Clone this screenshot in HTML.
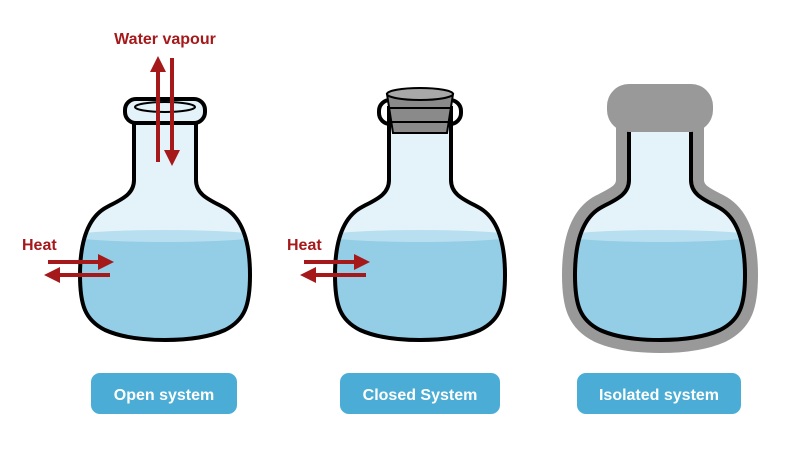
<!DOCTYPE html>
<html><head><style>
html,body{margin:0;padding:0;background:#fff;}
svg{display:block;}
text{font-family:"Liberation Sans",sans-serif;font-weight:bold;}
</style></head><body>
<svg width="800" height="449" viewBox="0 0 800 449" xmlns="http://www.w3.org/2000/svg">
<defs>
<path id="fl" d="M -31 108 L -31 180 C -31 195 -45 200 -58 207 C -79 218 -85 245 -85 275 C -85 305 -80 320 -60 330 C -40 339 -15 340 0 340 C 15 340 40 339 60 330 C 80 320 85 305 85 275 C 85 245 79 218 58 207 C 45 200 31 195 31 180 L 31 108 Z"/>
<clipPath id="cp"><use href="#fl"/></clipPath>
<g id="flask">
<use href="#fl" fill="#e4f3f9"/>
<g clip-path="url(#cp)">
<rect x="-100" y="235" width="200" height="120" fill="#93cde6"/>
<ellipse cx="0" cy="236" rx="92" ry="6" fill="#b7dff0"/>
</g>
<use href="#fl" fill="none" stroke="#000" stroke-width="4"/>
</g>
<marker id="ah" viewBox="0 0 10 10" refX="5" refY="5" markerWidth="4" markerHeight="4" orient="auto-start-reverse"><path d="M0 0 L10 5 L0 10 Z" fill="#a5191b"/></marker>
</defs>

<g transform="translate(165,0)">
<use href="#flask"/>
<rect x="-40" y="99" width="80" height="24" rx="11" fill="#e4f3f9" stroke="#000" stroke-width="4"/>
<ellipse cx="0" cy="107" rx="30" ry="5" fill="none" stroke="#000" stroke-width="2"/>
</g>
<g stroke="#a5191b" stroke-width="4" fill="none">
<line x1="158" y1="162" x2="158" y2="64" marker-end="url(#ah)"/>
<line x1="172" y1="58" x2="172" y2="158" marker-end="url(#ah)"/>
<line x1="48" y1="262" x2="106" y2="262" marker-end="url(#ah)"/>
<line x1="110" y1="275" x2="52" y2="275" marker-end="url(#ah)"/>
</g>
<text x="165" y="44" font-size="16" fill="#a5191b" text-anchor="middle">Water vapour</text>
<text x="22" y="250" font-size="16" fill="#a5191b">Heat</text>

<g transform="translate(420,0)">
<use href="#flask"/>
<rect x="-41" y="100" width="82" height="24" rx="11" fill="none" stroke="#000" stroke-width="4"/>
<path d="M -33 94 L -27 133 L 27 133 L 33 94 Z" fill="#8a8a8a" stroke="#000" stroke-width="2"/>
<line x1="-31" y1="108" x2="31" y2="108" stroke="#000" stroke-width="2"/>
<line x1="-29" y1="122" x2="29" y2="122" stroke="#000" stroke-width="2"/>
<ellipse cx="0" cy="94" rx="33" ry="6" fill="#a8a8a8" stroke="#000" stroke-width="2"/>
</g>
<g stroke="#a5191b" stroke-width="4" fill="none">
<line x1="304" y1="262" x2="362" y2="262" marker-end="url(#ah)"/>
<line x1="366" y1="275" x2="308" y2="275" marker-end="url(#ah)"/>
</g>
<text x="287" y="250" font-size="16" fill="#a5191b">Heat</text>

<g transform="translate(660,0)">
<use href="#fl" fill="none" stroke="#999" stroke-width="26" stroke-linejoin="round"/>
<use href="#flask"/>
<rect x="-53" y="84" width="106" height="48" rx="22" fill="#999"/>
</g>

<rect x="91" y="373" width="146" height="41" rx="9" fill="#4badd5"/>
<text x="164" y="400" font-size="16" fill="#fff" text-anchor="middle">Open system</text>
<rect x="340" y="373" width="160" height="41" rx="9" fill="#4badd5"/>
<text x="420" y="400" font-size="16" fill="#fff" text-anchor="middle">Closed System</text>
<rect x="577" y="373" width="164" height="41" rx="9" fill="#4badd5"/>
<text x="659" y="400" font-size="16" fill="#fff" text-anchor="middle">Isolated system</text>
</svg>
</body></html>
